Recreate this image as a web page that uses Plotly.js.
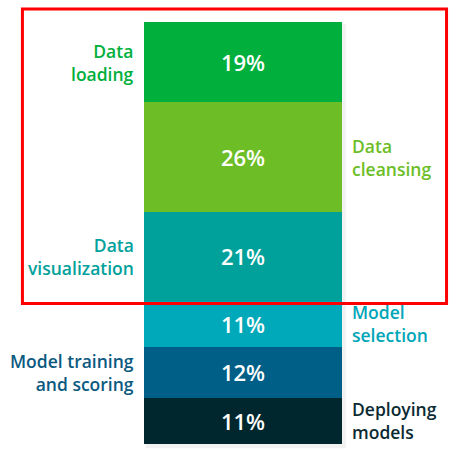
<!DOCTYPE html>
<html>
<head>
<meta charset="utf-8">
<script src="https://cdn.plot.ly/plotly-3.0.1.min.js"></script>
<style>html,body{margin:0;padding:0;background:#fff;}#chart{width:456px;height:455px;}</style>
</head>
<body>
<div id="chart"></div>
<script>
// Stages listed from bottom of the stack to the top
var stages = ["Deploying models", "Model training and scoring", "Model selection", "Data visualization", "Data cleansing", "Data loading"];
var labelLines = [["Deploying", "models"], ["Model training", "and scoring"], ["Model", "selection"], ["Data", "visualization"], ["Data", "cleansing"], ["Data", "loading"]];
var shares = [11, 12, 11, 21, 26, 19];
var colors = ["#00272E", "#005F87", "#00A9BA", "#00A19B", "#6DBE26", "#00AF3C"];
var labelColors = ["#0B2A33", "#0B5A80", "#00A6B8", "#00A19B", "#6DBE26", "#00AF3C"];
var sides = ["right", "left", "right", "left", "right", "left"];

var traces = [];
var annotations = [];
var cum = 0;
for (var i = 0; i < stages.length; i++) {
  traces.push({
    type: "bar",
    x: ["all"],
    y: [shares[i]],
    name: stages[i],
    text: [shares[i] + "%"],
    textposition: "inside",
    insidetextanchor: "middle",
    textangle: 0,
    textfont: {family: "Open Sans", size: 22, color: "#ffffff", weight: 600},
    marker: {color: colors[i], line: {width: 0}, cornerradius: (i === stages.length - 1 ? 5 : 0)},
    hoverinfo: "skip"
  });
  var mid = cum + shares[i] / 2;
  cum += shares[i];
  var left = sides[i] === "left";
  annotations.push({
    xref: "paper", yref: "y",
    x: left ? -0.04 : 1.04,
    y: mid,
    xanchor: left ? "right" : "left",
    yanchor: "middle",
    align: left ? "right" : "left",
    text: labelLines[i].join("<br>"),
    showarrow: false,
    font: {family: "Open Sans", size: 17.5, color: labelColors[i], weight: 600}
  });
}

var layout = {
  width: 456, height: 455,
  margin: {l: 144, r: 114, t: 22, b: 11, pad: 0},
  paper_bgcolor: "#ffffff", plot_bgcolor: "#ffffff",
  barmode: "stack", bargap: 0,
  showlegend: false,
  xaxis: {visible: false, fixedrange: true},
  yaxis: {visible: false, range: [0, 100], fixedrange: true},
  annotations: annotations,
  shapes: [
    {type: "rect", xref: "paper", yref: "paper", x0: 0.008, x1: 1.02, y0: -0.01, y1: 0.995,
     fillcolor: "rgba(0,0,0,0.05)", line: {width: 0}, layer: "below"},
    {type: "rect", xref: "paper", yref: "paper", x0: -0.614, x1: 1.528, y0: 0.333, y1: 1.031,
     fillcolor: "rgba(0,0,0,0)", line: {color: "#FF0000", width: 3}, layer: "above"}
  ]
};

Plotly.newPlot("chart", traces, layout, {displayModeBar: false, staticPlot: true});
</script>
</body>
</html>
